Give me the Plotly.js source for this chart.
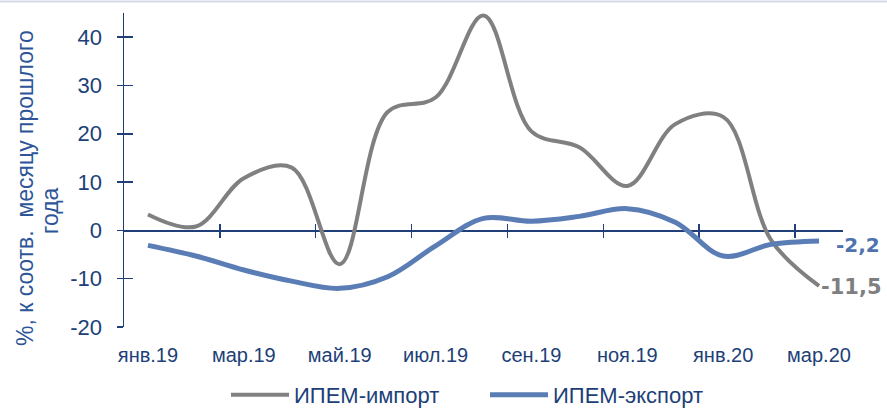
<!DOCTYPE html>
<html><head><meta charset="utf-8">
<script src="https://cdn.plot.ly/plotly-3.0.1.min.js"></script>
<style>html,body{margin:0;padding:0;background:#fff}#chart{width:887px;height:409px}</style>
</head><body><div id="chart"></div>
<script>
const months = ['янв.19','фев.19','мар.19','апр.19','май.19','июн.19','июл.19','авг.19','сен.19','окт.19','ноя.19','дек.19','янв.20','фев.20','мар.20'];
const importValues = [3.3, 0.8, 10.8, 13.0, -7.0, 24.5, 27.5, 44.5, 20.5, 17.2, 9.2, 22.0, 23.5, -2.0, -11.5];
const exportValues = [-3.1, -5.3, -8.2, -10.5, -12.0, -9.6, -3.2, 2.5, 1.9, 2.9, 4.5, 1.7, -5.3, -2.9, -2.2];
const seriesNames = ['ИПЕМ-импорт', 'ИПЕМ-экспорт'];
const yTicks = [-20, -10, 0, 10, 20, 30, 40];
const yTickText = yTicks.map(String);
const xLabelMonths = months.filter((m, i) => i % 2 === 0);
const xBoundaryTicks = [1.5, 3.5, 5.5, 7.5, 9.5, 11.5, 13.5];
const yTitleLines = ['%, к соотв.\u00a0 месяцу прошлого', 'года'];

const NAVY = '#203F78';
const GREY = '#808080';
const BLUE = '#5B7DB6';
const yRange = [-20, 45];
const zeroFrac = (0 - yRange[0]) / (yRange[1] - yRange[0]);
const fmt = v => v.toFixed(1).replace('.', ',');
const last = months.length - 1;

// invisible helper traces so the overlaid tick axes get drawn
const helper = (xa, ya) => ({x: months, y: importValues, xaxis: xa, yaxis: ya, type: 'scatter', mode: 'lines',
  line: {width: 0, color: 'rgba(0,0,0,0)'}, opacity: 0, showlegend: false, hoverinfo: 'skip'});

const traces = [
  helper('x2', 'y'), helper('x3', 'y'), helper('x', 'y2'),
  {x: months, y: importValues, name: seriesNames[0], type: 'scatter', mode: 'lines', legend: 'legend',
   line: {color: GREY, width: 4, shape: 'spline', smoothing: 1}, hoverinfo: 'skip'},
  {x: months, y: exportValues, name: seriesNames[1], type: 'scatter', mode: 'lines', legend: 'legend2',
   line: {color: BLUE, width: 5, shape: 'spline', smoothing: 1}, hoverinfo: 'skip'}
];

const zeroAxisBase = {
  anchor: 'free', position: zeroFrac, overlaying: 'x', type: 'category', categoryarray: months,
  range: [-0.5, last + 0.5], tickmode: 'array', tickvals: xBoundaryTicks, layer: 'below traces',
  ticklen: 6, tickwidth: 1.5, tickcolor: NAVY, linecolor: NAVY, linewidth: 1.5,
  showticklabels: false, showgrid: false, zeroline: false, fixedrange: true
};

const legendBase = {
  orientation: 'h', xanchor: 'left', y: 1 - (395 - 13) / 314, yanchor: 'middle',
  font: {size: 22, color: NAVY, family: 'Liberation Sans, Arial, sans-serif'},
  itemwidth: 58, bgcolor: 'rgba(0,0,0,0)'
};

const layout = {
  width: 887, height: 409,
  margin: {l: 124, r: 44, t: 13, b: 82, autoexpand: false},
  paper_bgcolor: '#ffffff', plot_bgcolor: 'rgba(0,0,0,0)',
  font: {family: 'Liberation Sans, Arial, sans-serif', color: NAVY},
  showlegend: true,
  legend: Object.assign({}, legendBase, {x: (226 - 124) / 719}),
  legend2: Object.assign({}, legendBase, {x: (485 - 124) / 719}),
  xaxis: {type: 'category', categoryarray: months, range: [-0.5, last + 0.5],
          tickmode: 'array', tickvals: xLabelMonths, ticktext: xLabelMonths,
          ticks: '', showline: false, showgrid: false, zeroline: false,
          tickfont: {size: 20, color: NAVY}, ticklabelstandoff: 14, fixedrange: true},
  xaxis2: Object.assign({}, zeroAxisBase, {ticks: 'outside', showline: true}),
  xaxis3: Object.assign({}, zeroAxisBase, {ticks: 'inside', showline: false}),
  yaxis: {range: yRange, tickmode: 'array', tickvals: yTicks, ticktext: yTickText,
          ticks: 'outside', ticklen: 6,
          tickwidth: 1.5, tickcolor: NAVY, showline: true, linecolor: NAVY, linewidth: 1.5,
          showgrid: false, zeroline: false, tickfont: {size: 22, color: NAVY},
          ticklabelstandoff: 10, fixedrange: true},
  yaxis2: {overlaying: 'y', anchor: 'x', side: 'left', range: yRange, tickmode: 'array',
           tickvals: yTicks, ticks: 'inside', ticklen: 9, tickwidth: 1.5, tickcolor: NAVY,
           showticklabels: false, showline: false, showgrid: false, zeroline: false, fixedrange: true},
  annotations: [
    {xref: 'paper', yref: 'paper', x: (25 - 124) / 719, y: 1 - (188 - 13) / 314, text: yTitleLines[0],
     textangle: -90, showarrow: false, xanchor: 'center', yanchor: 'middle',
     font: {size: 23, color: '#2E5597', family: 'Liberation Sans, Arial, sans-serif'}},
    {xref: 'paper', yref: 'paper', x: (50 - 124) / 719, y: 1 - (189 - 13) / 314, text: yTitleLines[1],
     textangle: -90, showarrow: false, xanchor: 'center', yanchor: 'middle', yshift: -22,
     font: {size: 23, color: '#2E5597', family: 'Liberation Sans, Arial, sans-serif'}},
    {x: months[last], y: exportValues[last], text: '<b>' + fmt(exportValues[last]) + '</b>',
     showarrow: false, xanchor: 'left', yanchor: 'middle', xshift: 15, yshift: -4,
     font: {size: 20, color: '#4F72B0', family: 'DejaVu Sans, sans-serif'}},
    {x: months[last], y: importValues[last], text: '<b>' + fmt(importValues[last]) + '</b>',
     showarrow: false, xanchor: 'left', yanchor: 'middle', xshift: 0, yshift: -1,
     font: {size: 21, color: '#7F7F7F', family: 'DejaVu Sans, sans-serif'}}
  ],
  shapes: [
    {type: 'line', xref: 'paper', yref: 'paper', x0: -124 / 719, x1: 763 / 719,
     y0: 1 + 11.5 / 314, y1: 1 + 11.5 / 314, line: {color: '#D5DCE6', width: 2}}
  ]
};

Plotly.newPlot('chart', traces, layout, {displayModeBar: false, staticPlot: true});
</script>
</body></html>
